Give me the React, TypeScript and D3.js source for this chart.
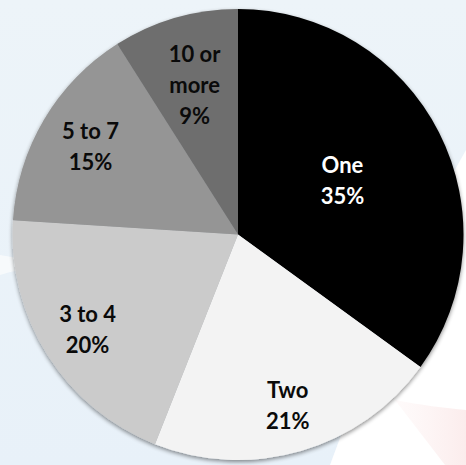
import React from "react";
import * as d3 from "d3";

const categories = ["One", "Two", "3 to 4", "5 to 7", "10 or more"];
const values = [35, 21, 20, 15, 9];
const labelLines = [["One"], ["Two"], ["3 to 4"], ["5 to 7"], ["10 or", "more"]];
const colors = ["#000000", "#f3f3f3", "#cbcbcb", "#959595", "#6e6e6e"];
const textColors = ["#ffffff", "#0a0a0a", "#0a0a0a", "#0a0a0a", "#0a0a0a"];
const labelRadiusFrac = [0.52, 0.79, 0.79, 0.76, 0.69];

const W = 466;
const H = 465;

export default function App() {
  const cx = 238;
  const cy = 234.5;
  const R = 225.5;
  const pie = d3.pie<number>().sort(null).value((d) => d);
  const arcs = pie(values);
  const arcGen = d3.arc<d3.PieArcDatum<number>>().innerRadius(0).outerRadius(R);
  const fontSize = 22;
  const lineH = 31;

  return (
    <svg
      width={W}
      height={H}
      style={{ position: "absolute", left: 0, top: 0, display: "block" }}
      fontFamily="Lato, 'Open Sans', sans-serif"
    >
      <defs>
        <linearGradient id="bg" x1="0" y1="0" x2="0" y2="1">
          <stop offset="0" stopColor="#edf4f9" />
          <stop offset="1" stopColor="#e8f1f9" />
        </linearGradient>
        <filter id="sh" x="-10%" y="-10%" width="120%" height="120%">
          <feGaussianBlur in="SourceAlpha" stdDeviation="2" />
          <feOffset dx="0" dy="2" result="b" />
          <feComponentTransfer>
            <feFuncA type="linear" slope="0.45" />
          </feComponentTransfer>
          <feMerge>
            <feMergeNode />
            <feMergeNode in="SourceGraphic" />
          </feMerge>
        </filter>
        <linearGradient id="pink" x1="0" y1="0" x2="1" y2="0">
          <stop offset="0" stopColor="#fdf4f4" stopOpacity="0.4" />
          <stop offset="1" stopColor="#fbecec" stopOpacity="1" />
        </linearGradient>
      </defs>
      <rect x={0} y={0} width={W} height={H} fill="url(#bg)" />
      <path d={`M ${W} 150 C 420 230, 380 330, 330 ${H} L ${W} ${H} Z`} fill="#ffffff" />
      <path d={`M 395 400 C 420 405, 445 408, ${W} 410 L ${W} ${H} L 445 ${H} Z`} fill="url(#pink)" />
      <path d={`M 0 255 C 20 258, 35 262, 50 270 C 30 268, 15 270, 0 275 Z`} fill="#f7fafc" />
      <g transform={`translate(${cx},${cy})`}>
        <g filter="url(#sh)">
          {arcs.map((a, i) => (
            <path key={categories[i]} d={arcGen(a) || ""} fill={colors[i]} />
          ))}
        </g>
        {arcs.map((a, i) => {
          const mid = (a.startAngle + a.endAngle) / 2;
          const r = R * labelRadiusFrac[i];
          const x = Math.sin(mid) * r;
          const y = -Math.cos(mid) * r;
          const lines = [...labelLines[i], `${values[i]}%`];
          const y0 = y - ((lines.length - 1) * lineH) / 2;
          return (
            <text
              key={categories[i]}
              x={x}
              textAnchor="middle"
              fontSize={fontSize}
              fontWeight="bold"
              fill={textColors[i]}
            >
              {lines.map((l, j) => (
                <tspan key={j} x={x} y={y0 + j * lineH} dy="0.35em">
                  {l}
                </tspan>
              ))}
            </text>
          );
        })}
      </g>
    </svg>
  );
}
